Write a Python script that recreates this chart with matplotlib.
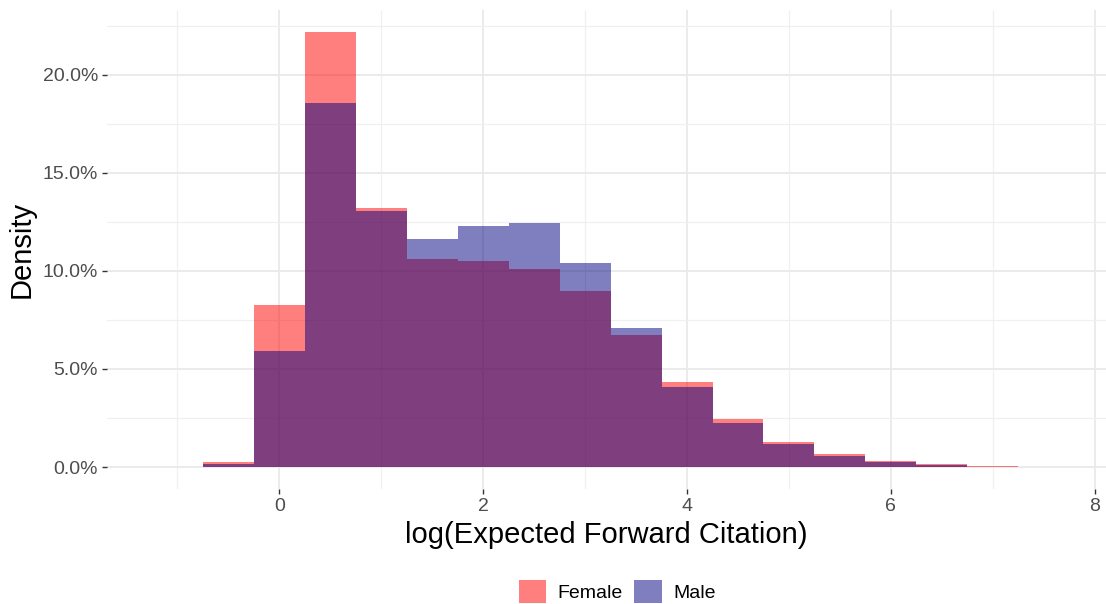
import matplotlib.pyplot as plt
from matplotlib.ticker import FuncFormatter, MultipleLocator
from matplotlib.patches import Patch

plt.rcParams['font.family'] = ['Liberation Sans', 'DejaVu Sans']

# bin centres (width 0.5) and densities in percent
bins = [-1.0, -0.5, 0.0, 0.5, 1.0, 1.5, 2.0, 2.5, 3.0, 3.5, 4.0, 4.5, 5.0, 5.5, 6.0, 6.5, 7.0, 7.5]
female = [0.01, 0.25, 8.27, 22.19, 13.2, 10.6, 10.51, 10.1, 8.98, 6.73, 4.34, 2.45, 1.29, 0.66, 0.32, 0.15, 0.05, 0.01]
male = [0.01, 0.17, 5.92, 18.57, 13.06, 11.63, 12.31, 12.45, 10.41, 7.07, 4.1, 2.26, 1.19, 0.56, 0.27, 0.1, 0.02, 0.01]
groups = ['Female', 'Male']
colors = ['red', 'navy']

fig = plt.figure(figsize=(11.06, 6.04), dpi=100)
ax = fig.add_axes([107/1106, 115/604, 999/1106, 479/604])

ax.bar(bins, female, width=0.5, color=colors[0], alpha=0.5, linewidth=0, zorder=2)
ax.bar(bins, male, width=0.5, color=colors[1], alpha=0.5, linewidth=0, zorder=3)

ax.set_xlim(-1.69, 8.11)
ax.set_ylim(-1.12, 23.3)

ax.xaxis.set_major_locator(MultipleLocator(2))
ax.xaxis.set_minor_locator(MultipleLocator(1))
ax.yaxis.set_major_locator(MultipleLocator(5))
ax.yaxis.set_minor_locator(MultipleLocator(2.5))
ax.yaxis.set_major_formatter(FuncFormatter(lambda v, p: f'{v:.1f}%'))

ax.grid(which='major', color='#EBEBEB', linewidth=1.4, zorder=0)
ax.grid(which='minor', color='#F0F0F0', linewidth=0.9, zorder=0)
ax.set_axisbelow(True)
for s in ax.spines.values():
    s.set_visible(False)

ax.tick_params(which='major', length=3.5, width=1, color='#333333', labelcolor='#4D4D4D',
               labelsize=14, pad=3)
ax.tick_params(which='minor', length=0)

ax.set_xlabel('log(Expected Forward Citation)', fontsize=21, labelpad=4)
ax.set_ylabel('Density', fontsize=21, labelpad=5)

handles = [Patch(facecolor=c, alpha=0.5, edgecolor='none') for c in colors]
fig.legend(handles, groups, loc='center', bbox_to_anchor=(0.558, 0.021), ncol=2,
           frameon=False, fontsize=14, handlelength=1.4, handleheight=1.4,
           handletextpad=0.6, columnspacing=0.6)

fig.savefig('out.png', dpi=100)
